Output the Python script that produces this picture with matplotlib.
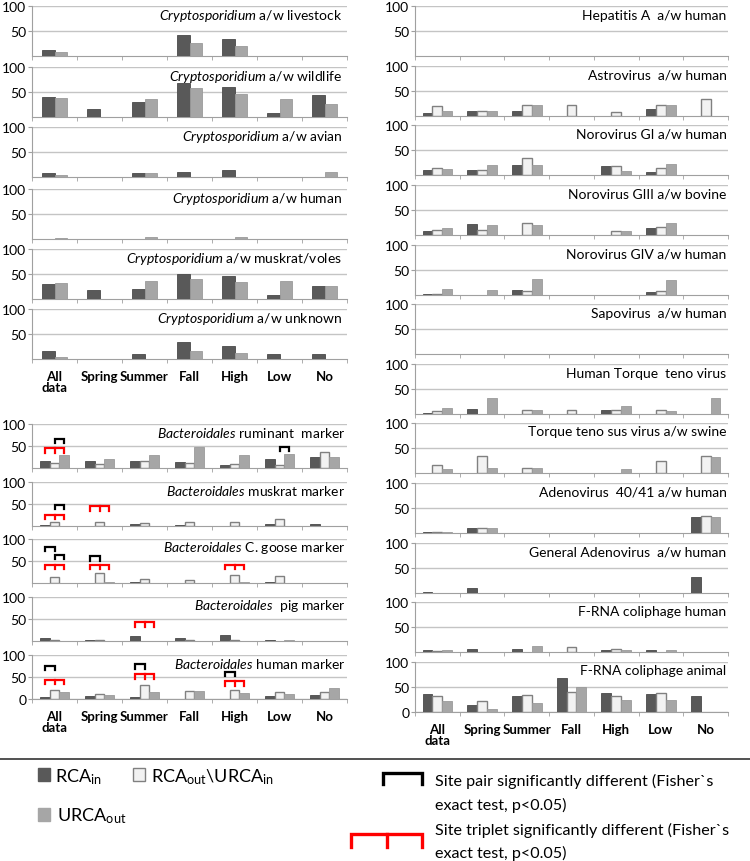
import numpy as np
import matplotlib
matplotlib.use('Agg')
import matplotlib.pyplot as plt
from matplotlib.patches import Rectangle
from matplotlib.lines import Line2D

plt.rcParams['font.family'] = ['Lato', 'DejaVu Sans']
plt.rcParams['mathtext.fontset'] = 'custom'
plt.rcParams['mathtext.rm'] = 'Lato'
plt.rcParams['mathtext.it'] = 'Lato:italic'
plt.rcParams['mathtext.bf'] = 'Lato:bold'

categories = ['All\ndata', 'Spring', 'Summer', 'Fall', 'High', 'Low', 'No']

# Cryptosporidium panels (only RCA_in and URCA_out)
crypto_titles = ['livestock', 'wildlife', 'avian', 'human', 'muskrat/voles', 'unknown']
crypto_rca_in = [
    [13, 0, 0, 43, 34, 0, 0],
    [41, 16, 31, 68, 61, 9, 45],
    [8, 0, 8, 10, 15, 0, 0],
    [0, 0, 0, 0, 0, 0, 0],
    [30, 18, 21, 50, 46, 9, 26],
    [17, 0, 11, 34, 26, 10, 10],
]
crypto_urca_out = [
    [8, 0, 0, 26, 20, 0, 0],
    [39, 0, 37, 59, 47, 37, 27],
    [4, 0, 8, 0, 0, 0, 11],
    [2, 0, 5, 0, 5, 0, 0],
    [32, 0, 37, 41, 34, 36, 26],
    [5, 0, 0, 17, 13, 0, 0],
]

# Bacteroidales markers
bact_titles = ['ruminant  marker', 'muskrat marker', 'C. goose marker', ' pig marker', 'human marker']
bact_rca_in = [
    [15, 17, 17, 13, 6, 21, 26],
    [1.5, 0, 5, 2, 0, 5, 5],
    [0, 0, 2, 0, 0, 2, 0],
    [7, 2, 12, 6, 14, 3, 0],
    [5, 6, 5, 0, 0, 6, 9],
]
bact_rca_out = [
    [12, 10, 17, 12, 10, 7, 36],
    [8, 10, 6, 10, 8, 15, 0],
    [13, 22, 9, 7, 19, 15, 0],
    [3, 2, 0, 3, 3, 0, 0],
    [20, 11, 32, 19, 21, 17, 17],
]
bact_urca_out = [
    [30, 21, 29, 47, 29, 32, 24],
    [0, 0, 1, 0, 0, 1, 0],
    [0, 1.5, 0, 0, 1.5, 0, 0],
    [0, 0, 0, 0, 0, 2, 0],
    [16, 9, 17, 19, 13, 11, 25],
]

# significance brackets: (panel, category, kind, top level)
bact_brackets = [
    (0, 0, 'pair12', 66), (0, 0, 'triple', 45), (0, 5, 'pair12', 49),
    (1, 0, 'pair12', 48), (1, 0, 'triple', 26), (1, 1, 'triple', 45),
    (2, 0, 'pair01', 82), (2, 0, 'pair12', 64), (2, 0, 'triple', 41),
    (2, 1, 'pair01', 61), (2, 1, 'triple', 41), (2, 4, 'triple', 41),
    (3, 2, 'triple', 43),
    (4, 0, 'pair01', 76), (4, 0, 'triple', 44),
    (4, 2, 'pair01', 79), (4, 2, 'triple', 56),
    (4, 4, 'pair01', 62), (4, 4, 'triple', 40),
]

# viruses / phages
virus_titles = ['Hepatitis A  a/w human', 'Astrovirus  a/w human', 'Norovirus GI a/w human',
                'Norovirus GIII a/w bovine', 'Norovirus GIV a/w human', 'Sapovirus  a/w human',
                'Human Torque  teno virus', 'Torque teno sus virus a/w swine',
                'Adenovirus  40/41 a/w human', 'General Adenovirus  a/w human',
                'F-RNA coliphage human', 'F-RNA coliphage animal']
virus_rca_in = [
    [0, 0, 0, 0, 0, 0, 0],
    [7, 10, 10, 0, 0, 15, 0],
    [10, 10, 21, 0, 18, 7, 0],
    [8, 22, 0, 0, 0, 15, 0],
    [3, 0, 10, 0, 0, 7, 0],
    [0, 0, 0, 0, 0, 0, 0],
    [3, 10, 0, 0, 8, 0, 0],
    [0, 0, 0, 0, 0, 0, 0],
    [3, 10, 0, 0, 0, 0, 32],
    [3, 10, 0, 0, 0, 0, 33],
    [5, 7, 7, 0, 5, 5, 0],
    [36, 14, 32, 68, 38, 36, 32],
]
virus_rca_out = [
    [0, 0, 0, 0, 0, 0, 0],
    [20, 10, 23, 23, 8, 23, 35],
    [15, 10, 35, 0, 18, 15, 0],
    [11, 11, 24, 0, 8, 16, 0],
    [3, 0, 9, 0, 0, 9, 0],
    [0, 0, 0, 0, 0, 0, 0],
    [7, 0, 9, 9, 8, 8, 0],
    [16, 34, 10, 0, 0, 24, 34],
    [3, 10, 0, 0, 0, 0, 35],
    [0, 0, 0, 0, 0, 0, 0],
    [3, 0, 0, 10, 7, 0, 0],
    [32, 23, 34, 40, 32, 38, 0],
]
virus_urca_out = [
    [0, 0, 0, 0, 0, 0, 0],
    [10, 10, 22, 0, 0, 23, 0],
    [13, 21, 21, 0, 9, 23, 0],
    [14, 21, 21, 0, 8, 24, 0],
    [13, 10, 33, 0, 0, 31, 0],
    [0, 0, 0, 0, 0, 0, 0],
    [13, 32, 9, 0, 17, 6, 32],
    [8, 11, 10, 0, 9, 0, 32],
    [2, 10, 0, 0, 0, 0, 32],
    [0, 0, 0, 0, 0, 0, 0],
    [5, 0, 13, 0, 5, 5, 0],
    [23, 7, 19, 50, 25, 25, 0],
]

DARK = '#595959'
LIGHT = '#f2f2f2'
LIGHT_EDGE = '#808080'
GRAY = '#a6a6a6'
AXIS = '#a0a0a0'

W, H = 750, 862
fig = plt.figure(figsize=(W / 100, H / 100), dpi=100)
x = np.arange(len(categories))


def add_panel(left, top, width, height):
    return fig.add_axes([left / W, 1 - (top + height) / H, width / W, height / H])


def style(ax, show_x=False, show_zero=False):
    ax.set_xlim(-0.5, 6.5)
    ax.set_ylim(0, 100.5)
    ax.set_yticks([0, 50, 100] if show_zero else [50, 100])
    ax.yaxis.grid(True, color='#c4c4c4', lw=1)
    ax.set_axisbelow(True)
    for s in ['top', 'right']:
        ax.spines[s].set_visible(False)
    for s in ['left', 'bottom']:
        ax.spines[s].set_color(AXIS)
    ax.set_xticks(x)
    ax.set_xticks(np.arange(-0.5, 7), minor=True)
    ax.tick_params(axis='x', which='major', length=0, pad=8)
    ax.tick_params(axis='x', which='minor', length=3, color=AXIS)
    ax.tick_params(axis='y', length=3, color=AXIS, pad=1, labelsize=10)
    if show_x:
        ax.set_xticklabels(categories, fontweight='bold', fontsize=9.5, linespacing=0.85)
    else:
        ax.set_xticklabels([])


def draw_bars(ax, pos, vals, w, **kw):
    vals = np.asarray(vals, dtype=float)
    keep = vals > 0
    ax.bar(pos[keep], vals[keep], w, zorder=3, **kw)


def bars3(ax, a, b, c):
    w = 0.22
    draw_bars(ax, x - w, a, w, color=DARK, edgecolor='#4a4a4a', lw=0.6)
    draw_bars(ax, x, b, w, color=LIGHT, edgecolor=LIGHT_EDGE, lw=1.0)
    draw_bars(ax, x + w, c, w, color=GRAY, edgecolor='#9a9a9a', lw=0.6)


def bracket(ax, cat, kind, top, leg=10):
    w = 0.22
    offs = {'pair01': (-w, 0), 'pair12': (0, w), 'triple': (-w, w)}[kind]
    x0, x1 = cat + offs[0], cat + offs[1]
    color = 'red' if kind == 'triple' else 'black'
    ax.plot([x0, x0, x1, x1], [top - leg, top, top, top - leg], color=color,
            lw=1.6, zorder=4, clip_on=False, solid_joinstyle='miter')
    if kind == 'triple':
        ax.plot([cat, cat], [top, top - leg], color=color, lw=1.6, zorder=4, clip_on=False)


# left column: Cryptosporidium
crypto_tops = [7, 68, 128, 190, 250, 310]
for i, top in enumerate(crypto_tops):
    ax = add_panel(32, top, 315, 50)
    w = 0.27
    draw_bars(ax, x - w / 2, crypto_rca_in[i], w, color=DARK, edgecolor='#4a4a4a', lw=0.6)
    draw_bars(ax, x + w / 2, crypto_urca_out[i], w, color=GRAY, edgecolor='#9a9a9a', lw=0.6)
    style(ax, show_x=(i == len(crypto_tops) - 1))
    ax.text(0.985, 0.82, r'$\it{Cryptosporidium}$ a/w ' + crypto_titles[i],
            transform=ax.transAxes, ha='right', va='center', fontsize=10)

# left column: Bacteroidales
bact_tops = [425, 483, 540, 598, 656]
bact_axes = []
for i, top in enumerate(bact_tops):
    ax = add_panel(32, top, 315, 44)
    bars3(ax, bact_rca_in[i], bact_rca_out[i], bact_urca_out[i])
    last = i == len(bact_tops) - 1
    style(ax, show_x=last, show_zero=last)
    ax.text(0.995, 0.81, r'$\it{Bacteroidales}$ ' + bact_titles[i],
            transform=ax.transAxes, ha='right', va='center', fontsize=10)
    bact_axes.append(ax)

for p, cat, kind, top in bact_brackets:
    bracket(bact_axes[p], cat, kind, top)

# right column: viruses
virus_tops = [7, 67, 126, 186, 246, 305, 365, 424, 484, 544, 603, 663]
for i, top in enumerate(virus_tops):
    ax = add_panel(415, top, 313, 50)
    bars3(ax, virus_rca_in[i], virus_rca_out[i], virus_urca_out[i])
    last = i == len(virus_tops) - 1
    style(ax, show_x=last, show_zero=last)
    ax.text(0.995, 0.83, virus_titles[i], transform=ax.transAxes,
            ha='right', va='center', fontsize=10)

# legend
def fx(px):
    return px / W


def fy(py):
    return 1 - py / H


fig.add_artist(Line2D([0, 1], [fy(760)] * 2, color='#333333', lw=1.2))
fig.add_artist(Rectangle((fx(38), fy(782)), 12 / W, 13 / H, color=DARK))
fig.add_artist(Rectangle((fx(133), fy(782)), 12 / W, 13 / H, facecolor=LIGHT, edgecolor=LIGHT_EDGE, lw=1))
fig.add_artist(Rectangle((fx(38), fy(822)), 12 / W, 13 / H, color=GRAY))
fig.text(fx(55), fy(777), r'RCA$_{\mathrm{in}}$', fontsize=13, va='center')
fig.text(fx(151), fy(777), r'RCA$_{\mathrm{out}}$\URCA$_{\mathrm{in}}$', fontsize=13, va='center')
fig.text(fx(57), fy(816), r'URCA$_{\mathrm{out}}$', fontsize=13, va='center')

fig.add_artist(Line2D([fx(383), fx(383), fx(422), fx(422)], [fy(785), fy(774), fy(774), fy(785)],
                      color='black', lw=2.4, solid_joinstyle='miter'))
fig.add_artist(Line2D([fx(351), fx(351), fx(422), fx(422)], [fy(848), fy(835), fy(835), fy(848)],
                      color='red', lw=2.4, solid_joinstyle='miter'))
fig.add_artist(Line2D([fx(387), fx(387)], [fy(835), fy(848)], color='red', lw=2.4))
fig.text(fx(435), fy(781), 'Site pair significantly different (Fisher`s', fontsize=11.6, va='center')
fig.text(fx(435), fy(805), 'exact test, p<0.05)', fontsize=11.6, va='center')
fig.text(fx(435), fy(830), 'Site triplet significantly different (Fisher`s', fontsize=11.6, va='center')
fig.text(fx(435), fy(853), 'exact test, p<0.05)', fontsize=11.6, va='center')

fig.savefig('out.png', dpi=100)
